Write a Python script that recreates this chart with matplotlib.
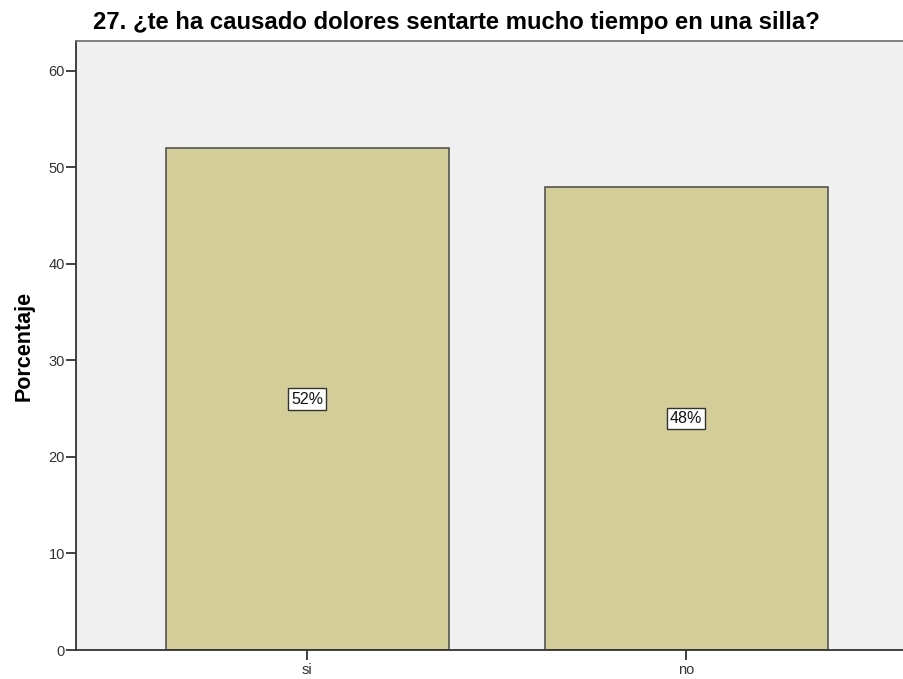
import numpy as np
import matplotlib.pyplot as plt

plt.rcParams['font.family'] = ['Liberation Sans', 'DejaVu Sans']

# Data
categories = ['si', 'no']
percent = [52, 48]
labels = ['52%', '48%']
title = '27. ¿te ha causado dolores sentarte mucho tiempo en una silla?'

fig = plt.figure(figsize=(9.04, 6.79), dpi=100)
ax = fig.add_axes([0.0841, 0.0427, 0.9159, 0.8969])
ax.set_facecolor('#f0f0f0')

x = np.arange(len(categories))
ax.bar(x, percent, width=0.747, color='#d3ce97', edgecolor='#555555', linewidth=1.2, zorder=2)

for xi, v, lab in zip(x, percent, labels):
    ax.text(xi, v / 2, lab, ha='center', va='center', fontsize=11.5, color='#111111', zorder=3,
            bbox=dict(boxstyle='square,pad=0.2', fc='white', ec='#333333', lw=1))

ax.set_xlim(-0.61, 1.575)
ax.set_ylim(0, 63.1)
ax.set_xticks(x)
ax.set_xticklabels(categories)
ax.set_yticks(np.arange(0, 61, 10))
ax.tick_params(axis='y', labelsize=10.5, labelcolor='#333333', length=7, width=1.3, color='#333333', pad=1)
ax.tick_params(axis='x', labelsize=10.5, labelcolor='#333333', length=7, width=1.3, color='#333333', pad=2)

for s in ['left', 'bottom']:
    ax.spines[s].set_color('#333333')
    ax.spines[s].set_linewidth(1.3)
ax.spines['top'].set_color('#777777')
ax.spines['top'].set_linewidth(1.3)
ax.spines['right'].set_visible(False)

ax.set_ylabel('Porcentaje', fontsize=15.5, fontweight='bold', labelpad=10)
fig.text(0.103, 0.967, title, fontsize=17.2, fontweight='bold', ha='left', va='center')

fig.savefig('out.png', dpi=100)
